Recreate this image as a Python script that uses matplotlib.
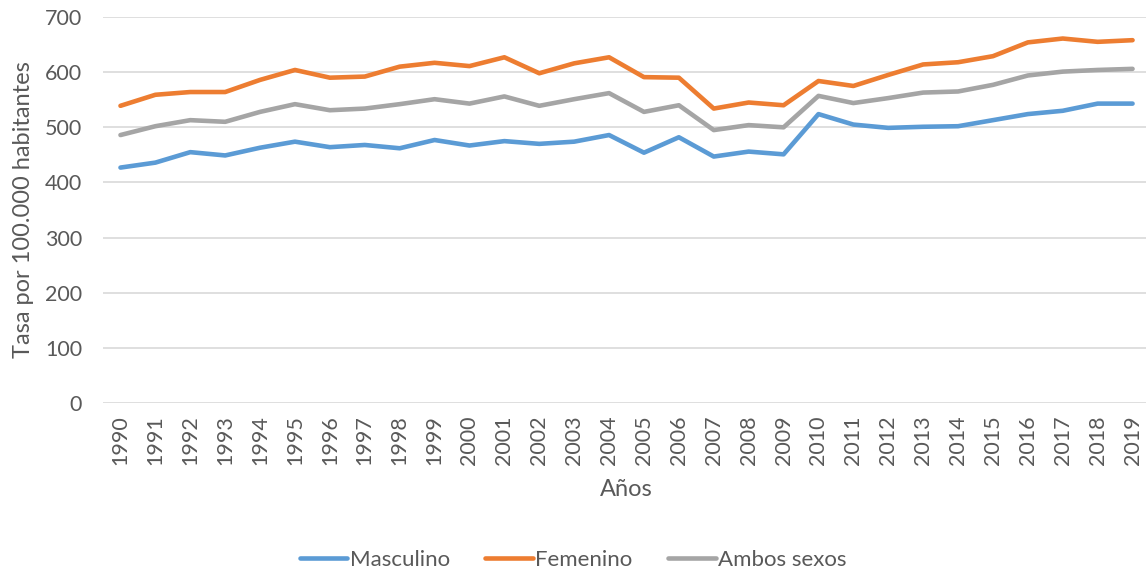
import numpy as np
import matplotlib.pyplot as plt

plt.rcParams['font.family'] = ['Lato', 'DejaVu Sans']

# Tasa por 100.000 habitantes, 1990-2019
years = [str(y) for y in range(1990, 2020)]
masculino = [427, 436, 455, 449, 463, 474, 464, 468, 462, 477,
             467, 475, 470, 474, 486, 454, 482, 447, 456, 451,
             524, 505, 499, 501, 502, 513, 524, 530, 543, 543]
femenino = [539, 559, 564, 564, 586, 604, 590, 592, 610, 617,
            611, 627, 598, 616, 627, 591, 590, 534, 545, 540,
            584, 575, 595, 614, 618, 629, 654, 661, 655, 658]
ambos = [486, 502, 513, 510, 528, 542, 531, 534, 542, 551,
         543, 556, 539, 551, 562, 528, 540, 495, 504, 500,
         557, 544, 553, 563, 565, 577, 594, 601, 604, 606]

series = [('Masculino', masculino, '#5B9BD5'),
          ('Femenino', femenino, '#ED7D31'),
          ('Ambos sexos', ambos, '#A5A5A5')]

fig = plt.figure(figsize=(11.46, 5.75), dpi=100)
ax = fig.add_axes([0.0899, 0.299, 0.9136, 0.6714])

x = np.arange(len(years))
for name, vals, col in series:
    ax.plot(x, vals, color=col, lw=3.3, solid_capstyle='round',
            solid_joinstyle='round', label=name)

ax.set_xlim(-0.5, len(years) - 0.5)
ax.set_ylim(0, 700)
ax.set_yticks(range(0, 701, 100))
ax.set_xticks(x)
ax.set_xticklabels(years, rotation=90)
ax.grid(axis='y', color='#D9D9D9', lw=1.2)
ax.set_axisbelow(True)
for s in ax.spines.values():
    s.set_visible(False)
ax.tick_params(length=0, labelsize=15.5, colors='#595959')
ax.tick_params(axis='x', pad=9)
ax.tick_params(axis='y', pad=15)

ax.set_ylabel('Tasa por 100.000 habitantes', fontsize=17, color='#595959', labelpad=8)
ax.set_xlabel('Años', fontsize=17, color='#595959', labelpad=10)

fig.legend(loc='center', bbox_to_anchor=(0.5, 0.026), ncol=3, frameon=False,
           fontsize=16, handlelength=2.15, handletextpad=0.1, columnspacing=1.6,
           labelcolor='#595959')

fig.savefig('out.png', dpi=100)
